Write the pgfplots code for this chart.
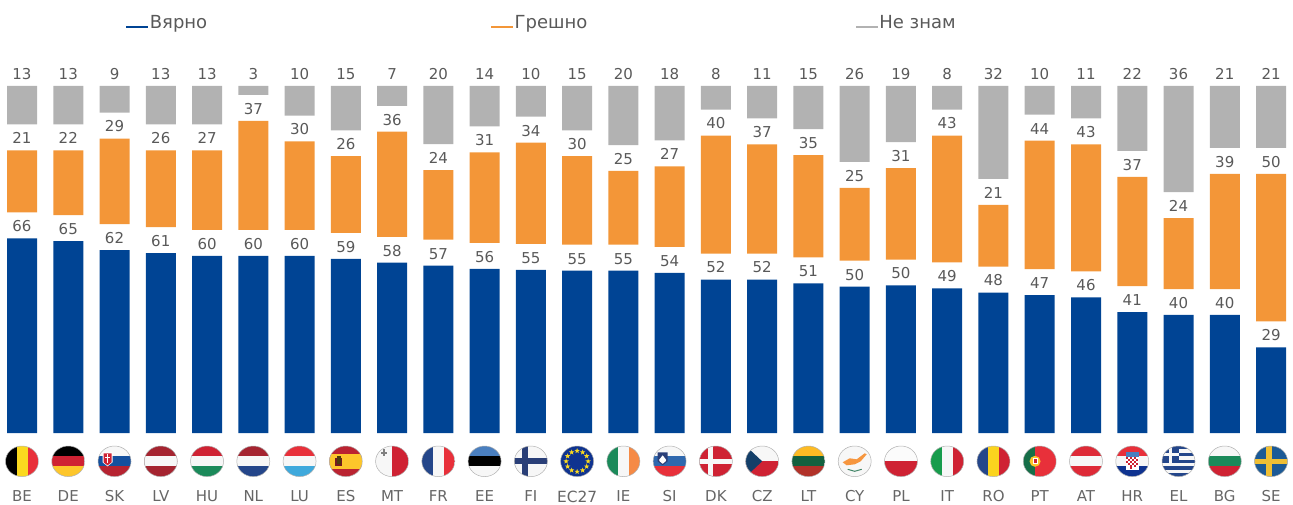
\documentclass[border=0pt]{standalone}
\usepackage{pgfplots}
\pgfplotsset{compat=1.18}
\usepackage{pgfplotstable}
\usepackage{fontspec}
\setmainfont{DejaVu Sans}
\usetikzlibrary{shapes.geometric}
\definecolor{cblue}{HTML}{004494}
\definecolor{corange}{HTML}{F39638}
\definecolor{cgrey}{HTML}{B2B2B2}
\definecolor{ctext}{HTML}{595959}
\definecolor{ctick}{HTML}{666666}
\definecolor{fr}{HTML}{CF2233}
\definecolor{fb2}{HTML}{E8303A}
\definecolor{fm}{HTML}{A52430}
\definecolor{fy}{HTML}{FDC62B}
\definecolor{fl}{HTML}{FBD91F}
\definecolor{fb}{HTML}{24468A}
\definecolor{fg}{HTML}{1B8A5A}
\definecolor{flb}{HTML}{3FA9DC}
\definecolor{fw}{HTML}{F7F7F7}
\definecolor{fo}{HTML}{F58A46}
\definecolor{fbl}{HTML}{4A7FBF}
\definecolor{fsk}{HTML}{14509E}
\definecolor{fse}{HTML}{1C5A96}
\definecolor{feu}{HTML}{0F3390}
\definecolor{fnv}{HTML}{2A3F78}
\pgfplotstableread{
i b s o g
0 66 8.8 21 13
1 65 8.8 22 13
2 62 8.8 29 9
3 61 8.8 26 13
4 60 8.8 27 13
5 60 8.8 37 3
6 60 8.8 30 10
7 59 8.8 26 15
8 57.7 8.8 35.6 6.7
9 56.7 8.8 23.6 19.7
10 55.6 8.8 30.7 13.7
11 55.3 8.8 34.3 10.4
12 55 8.8 30 15
13 55 8.8 25 20
14 54.3 8.8 27.3 18.4
15 52 8.8 40 8
16 52 8.8 37 11
17 50.7 8.8 34.7 14.6
18 49.6 8.8 24.7 25.7
19 50 8.8 31 19
20 49 8.8 43 8
21 47.6 8.8 20.9 31.5
22 46.7 8.8 43.6 9.7
23 46 8.8 43 11
24 41 8.8 37 22
25 40 8.8 24 36
26 40 8.8 39 21
27 29 8.8 50 21
}\data
% flag helpers (px units, centre 0,0, rx 16.5, ry 15.3)
\newcommand\hthree[3]{\fill[#1](-17,5.1)rectangle(17,16);\fill[#2](-17,-5.1)rectangle(17,5.1);\fill[#3](-17,-16)rectangle(17,-5.1);}
\newcommand\vthree[3]{\fill[#1](-17,-16)rectangle(-5.5,16);\fill[#2](-5.5,-16)rectangle(5.5,16);\fill[#3](5.5,-16)rectangle(17,16);}
\newcommand\flag[2]{\begin{scope}[shift={({22+46.26*#1},42.7)}]
\begin{scope}\clip (0,0) ellipse [x radius=16.5,y radius=15.3];
#2
\end{scope}
\draw[black!30,line width=.25pt] (0,0) ellipse [x radius=16.5,y radius=15.3];
\end{scope}}
\pgfplotsset{geom/.style={
  at={(0pt,35.5pt)},anchor=south west,
  scale only axis,width=646.5pt,height=173.5pt,
  xmin=-0.4756,xmax=27.475,ymin=0,ymax=117.6,
  axis line style={draw=none},
  major tick length=0pt,
  ytick=\empty,
  clip=false}}
\begin{document}
\begin{tikzpicture}[x=0.5pt,y=0.5pt,font=\fontsize{7.5}{9}\selectfont]
\path[use as bounding box] (0,0) rectangle (1293,504);
\begin{axis}[geom,
  ybar stacked,bar width=15pt,
  xtick={0,...,27},
  xticklabels={BE,DE,SK,LV,HU,NL,LU,ES,MT,FR,EE,FI,{\raisebox{-0.7pt}[5.5pt][0pt]{\fontsize{7.7}{9}\selectfont EC27}},IE,SI,DK,CZ,LT,CY,PL,IT,RO,PT,AT,HR,EL,BG,SE},
  x tick label style={text=ctick,inner sep=0pt,yshift=-28.5pt,text height=5.5pt,text depth=0pt,font=\fontsize{7.5}{9}\selectfont},
  legend style={at={(0.0967,1.1815)},anchor=west,draw=none,fill=none,inner sep=0pt,outer sep=0pt,legend columns=3,
    font=\fontsize{9}{10}\selectfont,text=ctext,
    nodes={inner sep=0pt,outer sep=0pt}},
  legend cell align=left,
]
\addplot[fill=cblue,draw=none,forget plot] table[x=i,y=b]{\data};
\addplot[fill=none,draw=none,forget plot] table[x=i,y=s]{\data};
\addplot[fill=corange,draw=none,forget plot] table[x=i,y=o]{\data};
\addplot[fill=none,draw=none,forget plot] table[x=i,y=s]{\data};
\addplot[fill=cgrey,draw=none,forget plot] table[x=i,y=g]{\data};
\addlegendimage{legend image code/.code={\draw[cblue,line width=1.4pt](0,-2pt)--(11pt,-2pt);}}
\addlegendentry{\makebox[170pt][l]{Вярно}}
\addlegendimage{legend image code/.code={\draw[corange,line width=1.4pt](0,-2pt)--(11pt,-2pt);}}
\addlegendentry{\makebox[170pt][l]{Грешно}}
\addlegendimage{legend image code/.code={\draw[cgrey,line width=1.4pt](0,-2pt)--(11pt,-2pt);}}
\addlegendentry{\makebox[60pt][l]{Не знам}}
\end{axis}
\begin{axis}[geom,hide axis,
  point meta=explicit,
  /pgf/number format/assume math mode=true,
  nodes near coords={\pgfmathprintnumber[fixed,precision=0]{\pgfplotspointmeta}},
  nodes near coords style={text=ctext,font=\fontsize{7.5}{9}\selectfont,anchor=south,inner sep=0pt,yshift=3pt},
]
\addplot[only marks,mark=none,draw=none] table[x=i,y=b,meta=b]{\data};
\addplot[only marks,mark=none,draw=none] table[x=i,y expr={\thisrow{b}+\thisrow{s}+\thisrow{o}},meta=o]{\data};
\addplot[only marks,mark=none,draw=none] table[x=i,y expr={\thisrow{b}+2*\thisrow{s}+\thisrow{o}+\thisrow{g}},meta=g]{\data};
\end{axis}
% flags
\flag{0}{\vthree{black}{fl}{fb2}}
\flag{1}{\hthree{black}{fr}{fy}}
\flag{2}{\hthree{fw}{fsk}{fm!60!fr}\fill[white](-12,9)--(-2,9)--(-2,-1)--(-7,-5)--(-12,-1)--cycle;\fill[fr](-11,8)--(-3,8)--(-3,-1)--(-7,-4)--(-11,-1)--cycle;\fill[white](-7.7,-2)rectangle(-6.3,7);\fill[white](-9.5,3)rectangle(-4.5,4.2);}
\flag{3}{\fill[fm](-17,-16)rectangle(17,16);\fill[fw](-17,-5)rectangle(17,5);}
\flag{4}{\hthree{fr}{fw}{fg}}
\flag{5}{\hthree{fm}{fw}{fb}}
\flag{6}{\hthree{fb2}{fw}{flb}}
\flag{7}{\fill[fm!50!fr](-17,-16)rectangle(17,16);\fill[fy](-17,-8)rectangle(17,7.5);\fill[fm!70!black](-10.5,-5)rectangle(-3.5,3);\fill[fy!30!black](-9,-3)rectangle(-5,5.5);}
\flag{8}{\fill[fw](-17,-16)rectangle(0,16);\fill[fr](0,-16)rectangle(17,16);\fill[gray](-9,5)rectangle(-7.5,12);\fill[gray](-11.5,7.8)rectangle(-5,9.2);}
\flag{9}{\vthree{fb}{fw}{fb2}}
\flag{10}{\hthree{fbl}{black}{fw}}
\flag{11}{\fill[fw](-17,-16)rectangle(17,16);\fill[fnv](-9,-16)rectangle(-2.5,16);\fill[fnv](-17,-3)rectangle(17,3);}
\flag{12}{\fill[feu](-17,-16)rectangle(17,16);\foreach \a in {0,30,...,330}{\node[star,star points=5,star point ratio=2.4,fill=fl,inner sep=0pt,minimum size=2.8pt] at ({11*cos(\a)},{10.4*sin(\a)}) {};}}
\flag{13}{\vthree{fg}{fw}{fo}}
\flag{14}{\hthree{fw}{fbl!50!fsk}{fb2}\fill[fnv](-12,9)--(-2,9)--(-2,0)--(-7,-4)--(-12,0)--cycle;\fill[white](-10.5,1.5)--(-7,6)--(-3.5,1.5)--(-4,0)--(-7,-2.5)--(-10,0)--cycle;}
\flag{15}{\fill[fr](-17,-16)rectangle(17,16);\fill[fw](-8,-16)rectangle(-2.5,16);\fill[fw](-17,-2.5)rectangle(17,2.5);}
\flag{16}{\fill[fw](-17,0)rectangle(17,16);\fill[fr](-17,-16)rectangle(17,0);\fill[fse!70!black](-17,16)--(0,0)--(-17,-16)--cycle;}
\flag{17}{\hthree{fy!85!orange}{fg!70!black}{fm!85!orange}}
\flag{18}{\fill[fw](-17,-16)rectangle(17,16);\fill[fo!90!yellow](-12,-1)--(-5,3)--(2,2)--(10,8)--(12,7)--(6,0)--(0,-3)--(-8,-4)--cycle;\draw[fg!60!gray,line width=.5pt](-7,-8)--(0,-10)--(7,-8);}
\flag{19}{\fill[fw!50!white](-17,0)rectangle(17,16);\fill[fr](-17,-16)rectangle(17,0);}
\flag{20}{\vthree{fg!85!green}{fw}{fr}}
\flag{21}{\vthree{fb}{fl!95!orange}{fr}}
\flag{22}{\fill[fg!80!black](-17,-16)rectangle(-4.7,16);\fill[fb2](-4.7,-16)rectangle(17,16);\fill[fy](-4.7,0)circle(5.5);\fill[white](-7.2,-3)rectangle(-2.2,3);\fill[fr](-6.2,-2)rectangle(-3.2,2);}
\flag{23}{\hthree{fb2!60!fr}{fw}{fb2!60!fr}}
\flag{24}{\hthree{fb2}{fw}{feu}\fill[white](-6.5,4)rectangle(6.5,-9);\foreach \p/\q in {-6/2,-2/2,2/2,-4/0,0/0,4/0,-6/-2,-2/-2,2/-2,-4/-4,0/-4,4/-4,-2/-6,2/-6,-2/-8}{\fill[fr](\p,\q)rectangle++(2,2);}\fill[fbl](-6.5,4)rectangle(6.5,9);}
\flag{25}{\fill[fw](-17,-16)rectangle(17,16);\foreach \t in {-15.3,-8.5,-1.7,5.1,11.9}{\fill[fb](-17,\t)rectangle(17,\t+3.4);}\fill[fb](-17,-1.7)rectangle(0,16);\fill[fw](-9.5,-1.7)rectangle(-6.5,16);\fill[fw](-17,5.5)rectangle(0,8.5);}
\flag{26}{\hthree{fw}{fg}{fr}}
\flag{27}{\fill[fse](-17,-16)rectangle(17,16);\fill[fy!90!gray](-5,-16)rectangle(1,16);\fill[fy!90!gray](-17,-2.7)rectangle(17,2.7);}
\end{tikzpicture}
\end{document}
